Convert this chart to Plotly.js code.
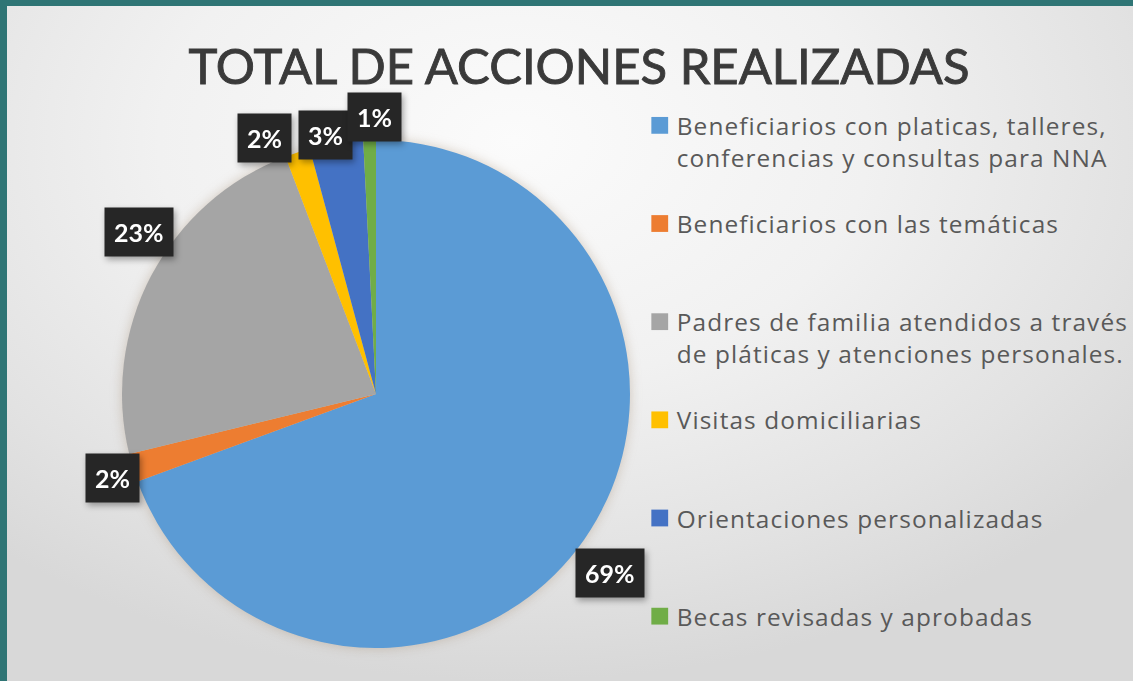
<!DOCTYPE html>
<html>
<head>
<meta charset="utf-8">
<script src="https://cdn.plot.ly/plotly-3.0.1.min.js"></script>
<style>
  html, body { margin:0; padding:0; width:1133px; height:681px; overflow:hidden; background:#2f7575; }
  #bg { position:absolute; left:7px; top:6px; right:0; bottom:0;
        background: radial-gradient(ellipse 70% 80% at 45% 20%, #fbfbfb 0%, #f1f1f1 45%, #e2e2e2 80%, #d8d8d8 100%); }
  #chart { position:absolute; left:0; top:0; width:1133px; height:681px; }
  #chart .pielayer .trace { filter: drop-shadow(0 0 6px rgba(150,120,90,0.35)); }
  #chart .annotation { filter: drop-shadow(2px 3px 3px rgba(0,0,0,0.35)); }
  #chart .gtitle { stroke: #3a3a3a; stroke-width: 0.9px; }
  #chart .legendtext { letter-spacing: 1.1px; }
  #chart .legend, #chart .legend .scrollbox, #chart .legend g { clip-path: none !important; }
  #chart .legendpoints path { scale: 1.4; translate: -5px 0; transform-origin: center; transform-box: fill-box; }
</style>
</head>
<body>
<div id="bg"></div>
<div id="chart"></div>
<script>
// ---- data ----
const categories = [
  "Beneficiarios con platicas, talleres,<br>conferencias y consultas para NNA",
  "Beneficiarios con las temáticas",
  "Padres de familia atendidos a través<br>de pláticas y atenciones personales.",
  "Visitas domiciliarias",
  "Orientaciones personalizadas",
  "Becas revisadas y aprobadas"
];
const values = [69.4, 1.8, 23.0, 1.6, 3.4, 0.8];
const colors = ["#5b9bd5", "#ed7d31", "#a5a5a5", "#ffc000", "#4472c4", "#70ad47"];
const chartTitle = "TOTAL DE ACCIONES REALIZADAS";

// ---- layout constants ----
const W = 1133, H = 681;
const cxPx = 376, cyPx = 394, rPx = 254;
const domain = {
  x: [(cxPx - rPx) / W, (cxPx + rPx) / W],
  y: [1 - (cyPx + rPx) / H, 1 - (cyPx - rPx) / H]
};
// label placement (radial factor and angular nudge in degrees)
const labelRadius = [1.16, 1.09, 1.13, 1.10, 1.04, 1.09];
const labelNudge  = [2.4, -0.7, 6.6, -5.5, -2.1, 1.2];
const legendLines = 3; // each legend entry occupies this many text lines

const total = values.reduce((a, b) => a + b, 0);
// legend labels padded with blank lines to space entries like the original
const legendLabels = categories.map(c => {
  const n = c.split("<br>").length;
  let s = c;
  for (let k = n; k < legendLines; k++) s += "<br>\u00a0";
  return s;
});

// compute label annotations from the slice angles
const annotations = [];
let acc = 0;
const pcx = W * (domain.x[0] + domain.x[1]) / 2;
const pcy = H * (1 - (domain.y[0] + domain.y[1]) / 2);
const pr = Math.min(W * (domain.x[1] - domain.x[0]), H * (domain.y[1] - domain.y[0])) / 2;
values.forEach((v, i) => {
  const mid = (acc + v / 2) / total * 360 + labelNudge[i];
  acc += v;
  const a = mid * Math.PI / 180;
  const R = pr * labelRadius[i];
  const px = pcx + R * Math.sin(a);
  const py = pcy - R * Math.cos(a);
  annotations.push({
    xref: "paper", yref: "paper",
    x: px / W, y: 1 - py / H,
    xanchor: "center", yanchor: "middle",
    text: Math.round(v / total * 100) + "%",
    showarrow: false,
    bgcolor: "#262626",
    borderpad: 9,
    font: { family: "Lato", size: 25, color: "#ffffff", weight: "bold" }
  });
});

const trace = {
  type: "pie",
  labels: legendLabels,
  values: values,
  sort: false,
  direction: "clockwise",
  rotation: 0,
  marker: { colors: colors, line: { width: 0 } },
  textinfo: "none",
  hoverinfo: "label+percent",
  domain: domain,
  automargin: false
};

const layout = {
  width: W, height: H,
  margin: { l: 0, r: 0, t: 0, b: 0, pad: 0, autoexpand: false },
  paper_bgcolor: "rgba(0,0,0,0)",
  plot_bgcolor: "rgba(0,0,0,0)",
  title: {
    text: chartTitle,
    x: 0.511, xanchor: "center",
    y: 1 - 67 / H, yanchor: "middle",
    font: { family: "Lato", size: 49, color: "#3a3a3a" }
  },
  showlegend: true,
  legend: {
    x: 0.562, xanchor: "left",
    y: 1 - 103 / H, yanchor: "top",
    valign: "top",
    bgcolor: "rgba(0,0,0,0)",
    font: { family: "Open Sans", size: 24.4, color: "#595959" }
  },
  annotations: annotations
};

Plotly.newPlot("chart", [trace], layout, { displayModeBar: false, staticPlot: true });
</script>
</body>
</html>
